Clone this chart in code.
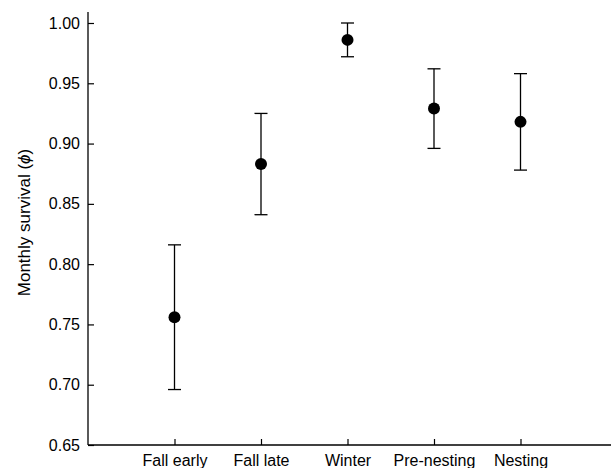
<!DOCTYPE html>
<html>
<head>
<meta charset="utf-8">
<script src="https://cdn.jsdelivr.net/npm/d3@7"></script>
<style>
    body { margin: 0; background: #fff; }
    svg { display: block; font-family: "Liberation Sans", Arial, sans-serif; }
</style>
</head>
<body>
<div id="chart"></div>
<script>
const periods = ['Fall early', 'Fall late', 'Winter', 'Pre-nesting', 'Nesting'];
const survival = [0.756, 0.883, 0.986, 0.929, 0.918];
const lower = [0.696, 0.841, 0.972, 0.896, 0.878];
const upper = [0.816, 0.925, 1.000, 0.962, 0.958];
const yTicks = [0.65, 0.70, 0.75, 0.80, 0.85, 0.90, 0.95, 1.00];

const width = 611;
const height = 468;
const margin = { top: 23, right: 4, bottom: 23, left: 88 };

const data = periods.map((p, i) => ({
    period: p,
    value: survival[i],
    lo: lower[i],
    hi: upper[i],
}));

const svg = d3
    .select('#chart')
    .append('svg')
    .attr('width', width)
    .attr('height', height);

const xScale = d3
    .scalePoint()
    .domain(periods)
    .range([margin.left, width - margin.right])
    .padding(1);

const yScale = d3
    .scaleLinear()
    .domain([0.65, 1.0])
    .range([height - margin.bottom, margin.top]);

const axisBottomY = height - margin.bottom;

// y axis, ticks pointing inward
const yAxis = d3
    .axisLeft(yScale)
    .tickValues(yTicks)
    .tickFormat(d3.format('.2f'))
    .tickSizeInner(-6)
    .tickSizeOuter(0)
    .tickPadding(8);

const gy = svg
    .append('g')
    .attr('transform', `translate(${margin.left}, 0)`)
    .call(yAxis);
gy.select('.domain').remove();
gy.selectAll('line').attr('stroke', '#000').attr('stroke-width', 1.2);
gy.selectAll('text').attr('font-size', 16).attr('fill', '#000');

svg.append('line')
    .attr('x1', margin.left).attr('x2', margin.left)
    .attr('y1', 12).attr('y2', axisBottomY)
    .attr('stroke', '#000').attr('stroke-width', 1.3);

// x axis
const xAxis = d3
    .axisBottom(xScale)
    .tickSizeInner(-6)
    .tickSizeOuter(0)
    .tickPadding(10);

const gx = svg
    .append('g')
    .attr('transform', `translate(0, ${axisBottomY})`)
    .call(xAxis);
gx.select('.domain').remove();
gx.selectAll('line').attr('stroke', '#000').attr('stroke-width', 1.2);
gx.selectAll('text').attr('font-size', 16).attr('fill', '#000');

svg.append('line')
    .attr('x1', margin.left).attr('x2', width)
    .attr('y1', axisBottomY).attr('y2', axisBottomY)
    .attr('stroke', '#000').attr('stroke-width', 1.3);

// y label
svg.append('text')
    .attr('transform', `translate(30, ${(12 + axisBottomY) / 2 - 6}) rotate(-90)`)
    .attr('text-anchor', 'middle')
    .attr('font-size', 17)
    .html('Monthly survival (<tspan font-style="italic">ϕ</tspan>)');

// error bars
const bars = svg.append('g').attr('class', 'errorbars')
    .attr('stroke', '#000').attr('stroke-width', 1.3);

bars.selectAll('line.stem')
    .data(data)
    .join('line')
    .attr('class', 'stem')
    .attr('x1', d => xScale(d.period))
    .attr('x2', d => xScale(d.period))
    .attr('y1', d => yScale(d.lo))
    .attr('y2', d => yScale(d.hi));

const capW = 6.5;
bars.selectAll('line.cap-hi')
    .data(data)
    .join('line')
    .attr('class', 'cap-hi')
    .attr('x1', d => xScale(d.period) - capW)
    .attr('x2', d => xScale(d.period) + capW)
    .attr('y1', d => yScale(d.hi))
    .attr('y2', d => yScale(d.hi));

bars.selectAll('line.cap-lo')
    .data(data)
    .join('line')
    .attr('class', 'cap-lo')
    .attr('x1', d => xScale(d.period) - capW)
    .attr('x2', d => xScale(d.period) + capW)
    .attr('y1', d => yScale(d.lo))
    .attr('y2', d => yScale(d.lo));

svg.append('g').attr('class', 'dots')
    .selectAll('circle')
    .data(data)
    .join('circle')
    .attr('cx', d => xScale(d.period))
    .attr('cy', d => yScale(d.value))
    .attr('r', 6)
    .attr('fill', '#000');
</script>
</body>
</html>
